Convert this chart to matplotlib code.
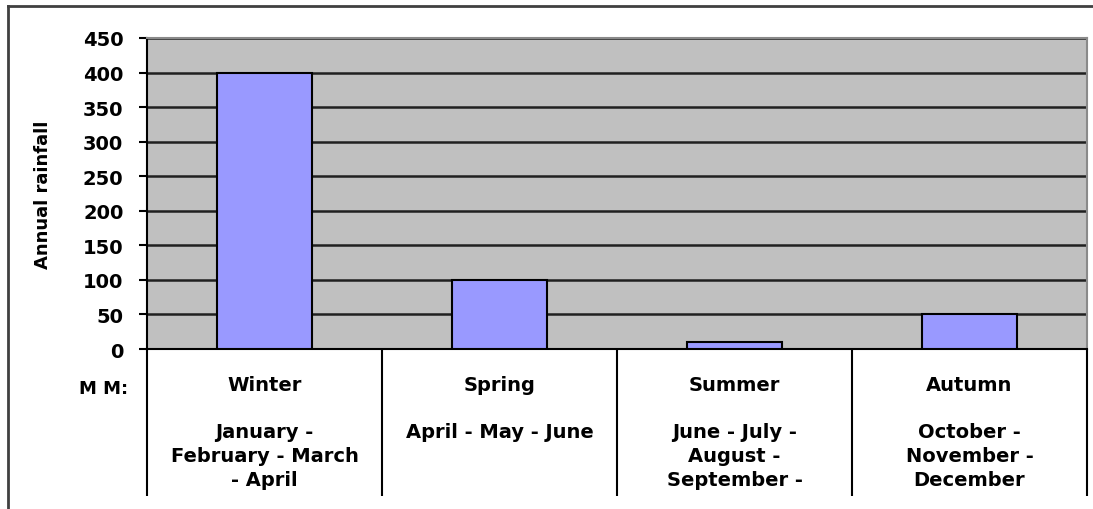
import matplotlib.pyplot as plt
import numpy as np
from matplotlib.lines import Line2D

seasons = ["Winter", "Spring", "Summer", "Autumn"]
months = ["January -\nFebruary - March\n- April",
          "April - May - June",
          "June - July -\nAugust -\nSeptember -",
          "October -\nNovember -\nDecember"]
rainfall = [400, 100, 10, 50]
yticks = np.arange(0, 451, 50)

plt.rcParams["font.family"] = "DejaVu Sans"
plt.rcParams["font.weight"] = "bold"

fig = plt.figure(figsize=(10.93, 5.10), dpi=100)
ax = fig.add_axes([147 / 1093, 160 / 510, 940 / 1093, 311 / 510])

x = np.arange(len(seasons))
ax.set_facecolor("#c0c0c0")
ax.bar(x, rainfall, width=0.405, color="#9999ff", edgecolor="black", linewidth=1.5, zorder=3)

ax.set_xlim(-0.5, len(seasons) - 0.5)
ax.set_ylim(0, 450)
ax.set_yticks(yticks)
ax.yaxis.grid(True, color="#202020", linewidth=1.8)
ax.set_axisbelow(True)

ax.tick_params(axis="y", length=6, width=1.5, pad=11, labelsize=14)
# category boundaries drawn as long minor ticks under the axis
ax.set_xticks([])
ax.set_xticks(np.arange(len(seasons) + 1) - 0.5, minor=True)
ax.tick_params(axis="x", which="minor", length=106, width=1.5, direction="out")

for side in ["top", "right"]:
    ax.spines[side].set_color("#8a8a8a")
    ax.spines[side].set_linewidth(1.5)
for side in ["left", "bottom"]:
    ax.spines[side].set_linewidth(1.5)

ax.set_ylabel("Annual rainfall", fontsize=13, fontweight="bold", labelpad=22)

tr = ax.get_xaxis_transform()
for i, (s, m) in enumerate(zip(seasons, months)):
    ax.text(i, -0.113, s, transform=tr, ha="center", va="center", fontsize=14)
    ax.text(i, -0.235, m, transform=tr, ha="center", va="top", fontsize=14,
            linespacing=1.33)
ax.text(-0.046, -0.125, "M M:", transform=ax.transAxes, ha="center", va="center", fontsize=13)

# outer chart frame
fig.add_artist(Line2D([8 / 1093, 1], [1 - 7 / 510, 1 - 7 / 510], color="#404040", linewidth=2))
fig.add_artist(Line2D([8 / 1093, 8 / 1093], [0, 1 - 7 / 510], color="#404040", linewidth=2))

fig.savefig("out.png", dpi=100)
